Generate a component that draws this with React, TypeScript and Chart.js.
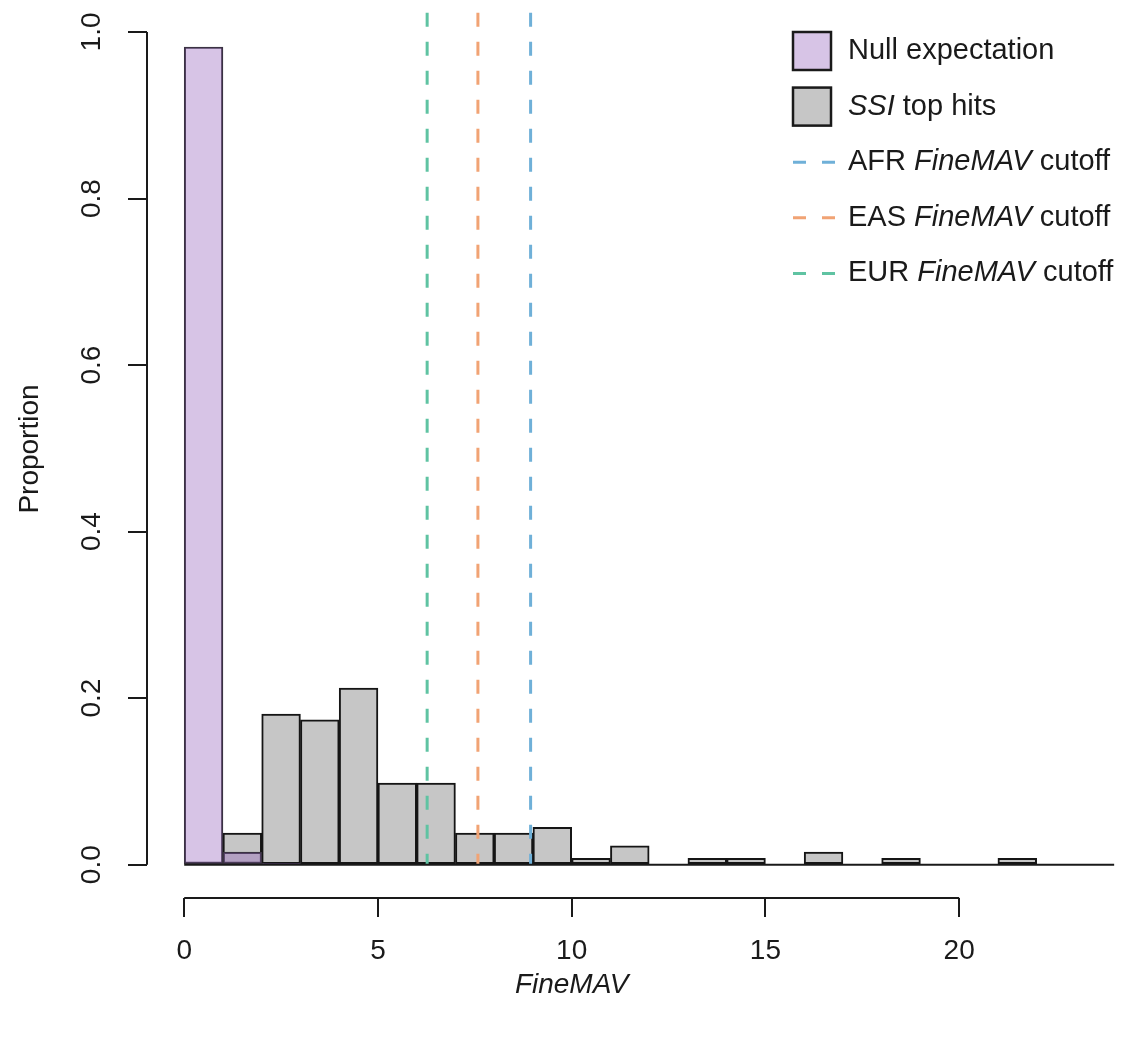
import { useEffect, useRef } from "react";
import { Chart, registerables } from "chart.js";

Chart.register(...registerables);

// Histogram bins: left edge of each unit-width FineMAV bin
const binStarts = [0, 1, 2, 3, 4, 5, 6, 7, 8, 9, 10, 11, 12, 13, 14, 15, 16, 17, 18, 19, 20, 21, 22, 23];

// Proportion of variants per bin
const nullExpectation = [0.982, 0.015, 0.002, 0, 0, 0, 0, 0, 0, 0, 0, 0, 0, 0, 0, 0, 0, 0, 0, 0, 0, 0, 0, 0];
const ssiTopHits = [
  0, 0.038, 0.181, 0.174, 0.212, 0.098, 0.098, 0.038, 0.038, 0.045, 0.0076, 0.0227,
  0, 0.0076, 0.0076, 0, 0.0152, 0, 0.0076, 0, 0, 0.0076, 0, 0,
];

// Population-specific FineMAV cutoffs
const cutoffPopulations = ["AFR", "EAS", "EUR"];
const cutoffValues = [8.94, 7.58, 6.27];
const cutoffColors = ["#6FB0D8", "#F1A374", "#5FC3A2"];

// Axis ticks
const xTickValues = [0, 5, 10, 15, 20];
const yTickValues = [0, 0.2, 0.4, 0.6, 0.8, 1.0];

const FONT = '"Liberation Sans", Arial, Helvetica, sans-serif';
const INK = "#1a1a1a";
const NULL_FILL = "rgba(150, 100, 190, 0.38)";
const NULL_BORDER = "#3a3242";
const HITS_FILL = "#C6C6C6";
const HITS_BORDER = "#151515";
const FONT_SIZE = 28;
const LEGEND_FONT_SIZE = 29;

type Part = [string, boolean];

function drawParts(ctx: CanvasRenderingContext2D, parts: Part[], x: number, y: number) {
  let cx = x;
  for (const [text, italic] of parts) {
    ctx.font = `${italic ? "italic " : ""}${LEGEND_FONT_SIZE}px ${FONT}`;
    ctx.fillText(text, cx, y);
    cx += ctx.measureText(text).width;
  }
}

const decorPlugin = {
  id: "histDecor",
  afterDraw(chart: any) {
    const { ctx, chartArea } = chart;
    const xs = chart.scales.x;
    const ys = chart.scales.y;
    ctx.save();

    // R-style axis lines spanning only the tick range
    ctx.strokeStyle = INK;
    ctx.lineWidth = 2;
    ctx.beginPath();
    ctx.moveTo(xs.getPixelForValue(xTickValues[0]), chartArea.bottom);
    ctx.lineTo(xs.getPixelForValue(xTickValues[xTickValues.length - 1]), chartArea.bottom);
    ctx.moveTo(chartArea.left, ys.getPixelForValue(yTickValues[0]));
    ctx.lineTo(chartArea.left, ys.getPixelForValue(yTickValues[yTickValues.length - 1]));
    ctx.stroke();

    // x-axis title, centred under the labelled range
    ctx.fillStyle = INK;
    ctx.textAlign = "center";
    ctx.textBaseline = "middle";
    ctx.font = `italic ${FONT_SIZE}px ${FONT}`;
    const mid = (xTickValues[0] + xTickValues[xTickValues.length - 1]) / 2;
    ctx.fillText("FineMAV", xs.getPixelForValue(mid), chartArea.bottom + 87);

    // Legend
    const boxLeft = chartArea.right - 333;
    const textLeft = boxLeft + 56;
    const rowTop = chartArea.top + 51;
    const rowStep = 55.6;
    ctx.textAlign = "left";
    const rows: { kind: "box" | "dash"; color: string; parts: Part[] }[] = [
      { kind: "box", color: NULL_FILL, parts: [["Null expectation", false]] },
      { kind: "box", color: HITS_FILL, parts: [["SSI", true], [" top hits", false]] },
      ...cutoffPopulations.map((p, i) => ({
        kind: "dash" as const,
        color: cutoffColors[i],
        parts: [[`${p} `, false], ["FineMAV", true], [" cutoff", false]] as Part[],
      })),
    ];
    rows.forEach((row, i) => {
      const cy = rowTop + i * rowStep;
      if (row.kind === "box") {
        ctx.fillStyle = "#ffffff";
        ctx.fillRect(boxLeft, cy - 20, 40, 40);
        ctx.fillStyle = row.color;
        ctx.fillRect(boxLeft, cy - 20, 40, 40);
        ctx.strokeStyle = INK;
        ctx.lineWidth = 2.5;
        ctx.strokeRect(boxLeft + 1, cy - 19, 38, 38);
      } else {
        ctx.strokeStyle = row.color;
        ctx.lineWidth = 3;
        ctx.setLineDash([13, 16]);
        ctx.beginPath();
        ctx.moveTo(boxLeft + 1, cy);
        ctx.lineTo(boxLeft + 43, cy);
        ctx.stroke();
        ctx.setLineDash([]);
      }
      ctx.fillStyle = INK;
      ctx.textBaseline = "middle";
      drawParts(ctx, row.parts, textLeft, cy);
    });

    ctx.restore();
  },
};

export default function App() {
  const canvasRef = useRef<HTMLCanvasElement>(null);

  useEffect(() => {
    const canvas = canvasRef.current;
    if (!canvas) return;

    const toBars = (vals: number[]) =>
      binStarts.map((b, i) => ({ x: b + 0.5, y: vals[i] > 0 ? vals[i] : null }));
    const lastEdge = binStarts[binStarts.length - 1] + 1;

    const chart = new Chart(canvas, {
      type: "bar",
      data: {
        datasets: [
          {
            type: "line",
            label: "baseline",
            data: [
              { x: binStarts[0], y: 0 },
              { x: lastEdge, y: 0 },
            ],
            borderColor: INK,
            borderWidth: 2,
            pointRadius: 0,
            order: -1,
          } as any,
          ...cutoffValues.map(
            (v, i) =>
              ({
                type: "line",
                label: `${cutoffPopulations[i]} FineMAV cutoff`,
                data: [
                  { x: v, y: 1.058 },
                  { x: v, y: 0 },
                ],
                borderColor: cutoffColors[i],
                borderWidth: 3,
                borderDash: [14, 15],
                pointRadius: 0,
                order: 0,
              }) as any
          ),
          {
            label: "Null expectation",
            data: toBars(nullExpectation),
            backgroundColor: NULL_FILL,
            borderColor: NULL_BORDER,
            borderWidth: 1.5,
            borderSkipped: false,
            grouped: false,
            barPercentage: 1,
            categoryPercentage: 1,
            order: 1,
          } as any,
          {
            label: "SSI top hits",
            data: toBars(ssiTopHits),
            backgroundColor: HITS_FILL,
            borderColor: HITS_BORDER,
            borderWidth: 2,
            borderSkipped: false,
            grouped: false,
            barPercentage: 1,
            categoryPercentage: 1,
            order: 2,
          } as any,
        ],
      },
      options: {
        responsive: false,
        animation: false,
        devicePixelRatio: 1,
        events: [],
        layout: { padding: 0 },
        plugins: {
          legend: { display: false },
          tooltip: { enabled: false },
        },
        scales: {
          x: {
            type: "linear",
            min: -0.96,
            max: 24.28,
            offset: false,
            afterBuildTicks: (s: any) => {
              s.ticks = xTickValues.map((v) => ({ value: v }));
            },
            afterFit: (s: any) => {
              s.height = 139;
              s.paddingLeft = 0;
              s.paddingRight = 0;
            },
            border: { display: false },
            grid: {
              offset: false,
              drawOnChartArea: false,
              drawTicks: true,
              tickLength: 19,
              lineWidth: 2,
              color: INK,
            },
            ticks: {
              padding: 17,
              minRotation: 0,
              maxRotation: 0,
              autoSkip: false,
              color: INK,
              font: { family: FONT, size: FONT_SIZE },
              callback: (v: any) => String(v),
            },
          },
          y: {
            type: "linear",
            min: -0.04,
            max: 1.0384,
            afterBuildTicks: (s: any) => {
              s.ticks = yTickValues.map((v) => ({ value: v }));
            },
            afterFit: (s: any) => {
              s.width = 147;
              s.paddingTop = 0;
              s.paddingBottom = 0;
            },
            border: { display: false },
            grid: {
              drawOnChartArea: false,
              drawTicks: true,
              tickLength: 19,
              lineWidth: 2,
              color: INK,
            },
            ticks: {
              minRotation: 90,
              maxRotation: 90,
              crossAlign: "center",
              padding: 16,
              autoSkip: false,
              color: INK,
              font: { family: FONT, size: FONT_SIZE },
              callback: (v: any) => Number(v).toFixed(1),
            },
            title: {
              display: true,
              text: "Proportion",
              color: INK,
              font: { family: FONT, size: FONT_SIZE },
              padding: { top: 13, bottom: 0 },
            },
          },
        },
      },
      plugins: [decorPlugin],
    } as any);

    return () => chart.destroy();
  }, []);

  return (
    <div style={{ position: "absolute", left: 0, top: 0, width: 1125, height: 1037, background: "#ffffff" }}>
      <canvas ref={canvasRef} width={1125} height={1037} style={{ display: "block" }} />
    </div>
  );
}
